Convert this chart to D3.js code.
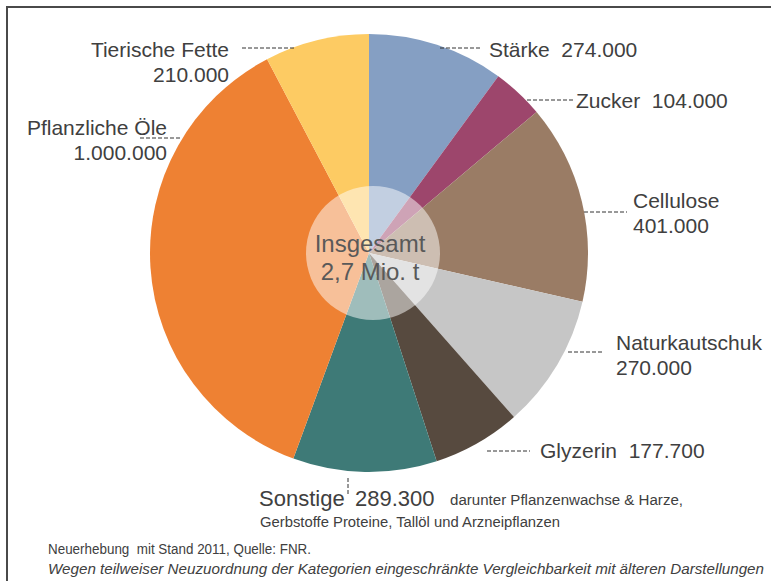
<!DOCTYPE html>
<html><head><meta charset="utf-8">
<script src="https://cdn.jsdelivr.net/npm/d3@7"></script>
<style>body{margin:0;background:#fff}svg{display:block}text{font-family:"Liberation Sans",Arial,sans-serif}</style>
</head><body><svg id="c" width="771" height="581"></svg>
<script>
const categories = ["Stärke","Zucker","Cellulose","Naturkautschuk","Glyzerin","Sonstige","Pflanzliche Öle","Tierische Fette"];
const values = [274000,104000,401000,270000,177700,289300,1000000,210000];
const valueLabels = ["274.000","104.000","401.000","270.000","177.700","289.300","1.000.000","210.000"];
const colors = ["#859fc3","#9d466c","#9a7c65","#c6c6c6","#574a3f","#3e7a77","#ee8133","#fdcb63"];
const centerLines = ["Insgesamt","2,7 Mio. t"];

const svg = d3.select("#c");
const cx = 369, cy = 253, R = 219;
const ink = "#404040";

// frame
svg.append("path").attr("d","M7,581 V7 H771").attr("fill","none").attr("stroke","#4a4a4a").attr("stroke-width",2);

const pie = d3.pie().sort(null).value(d=>d)(values);
const arc = d3.arc().innerRadius(0).outerRadius(R);
const g = svg.append("g").attr("transform",`translate(${cx},${cy})`);
g.selectAll("path").data(pie).join("path").attr("d",arc).attr("fill",(d,i)=>colors[i]);

svg.append("circle").attr("cx",cx+4).attr("cy",cy).attr("r",67).attr("fill","#fff").attr("fill-opacity",0.5);
svg.append("text").attr("x",cx+1).attr("y",cy-1).attr("text-anchor","middle").attr("font-size",24).attr("fill","#595959").text(centerLines[0]);
svg.append("text").attr("x",cx+1).attr("y",cy+27).attr("text-anchor","middle").attr("font-size",24).attr("fill","#595959").text(centerLines[1]);

// label layout (positions separate from data)
const layout = [
  {x:489,y:57,anchor:"start",two:false,line:[440,48,481,48]},
  {x:576,y:108,anchor:"start",two:false,line:[527,100,573,100]},
  {x:633,y:208,anchor:"start",two:true,line:[584,212,627,212]},
  {x:616,y:350,anchor:"start",two:true,line:[568,352,603,352]},
  {x:540,y:458,anchor:"start",two:false,line:[487,451,530,451]},
  null,
  {x:167,y:135,anchor:"end",two:true,line:[140,138,182,138]},
  {x:229,y:57,anchor:"end",two:true,line:[242,48,296,48]}
];
const dash = (l)=>svg.append("line").attr("x1",l[0]).attr("y1",l[1]).attr("x2",l[2]).attr("y2",l[3])
  .attr("stroke","#333").attr("stroke-width",1).attr("stroke-dasharray","4,2");
layout.forEach((L,i)=>{
  if(!L) return;
  dash(L.line);
  if(L.two){
    svg.append("text").attr("x",L.x).attr("y",L.y).attr("text-anchor",L.anchor).attr("font-size",21).attr("fill",ink).text(categories[i]);
    svg.append("text").attr("x",L.x).attr("y",L.y+25).attr("text-anchor",L.anchor).attr("font-size",21).attr("fill",ink).text(valueLabels[i]);
  } else {
    svg.append("text").attr("x",L.x).attr("y",L.y).attr("text-anchor",L.anchor).attr("font-size",21).attr("fill",ink)
      .attr("xml:space","preserve").text(categories[i]+"  "+valueLabels[i]);
  }
});

// Sonstige
dash([348,478,348,494]);
svg.append("text").attr("x",259).attr("y",506).attr("font-size",22).attr("fill",ink).text(categories[5]);
svg.append("text").attr("x",355).attr("y",506).attr("font-size",22).attr("fill",ink).text(valueLabels[5]);
svg.append("text").attr("x",450).attr("y",505).attr("font-size",14).attr("fill",ink)
  .attr("textLength",233).attr("lengthAdjust","spacingAndGlyphs").text("darunter Pflanzenwachse & Harze,");
svg.append("text").attr("x",260).attr("y",527).attr("font-size",14).attr("fill",ink)
  .attr("textLength",300).attr("lengthAdjust","spacingAndGlyphs").text("Gerbstoffe Proteine, Tallöl und Arzneipflanzen");

// footer
svg.append("text").attr("x",48).attr("y",554).attr("font-size",14).attr("fill",ink)
  .attr("textLength",263).attr("lengthAdjust","spacingAndGlyphs").attr("xml:space","preserve").text("Neuerhebung  mit Stand 2011, Quelle: FNR.");
svg.append("text").attr("x",48).attr("y",574).attr("font-size",14).attr("font-style","italic").attr("fill",ink)
  .attr("textLength",716).attr("lengthAdjust","spacingAndGlyphs").text("Wegen teilweiser Neuzuordnung der Kategorien eingeschränkte Vergleichbarkeit mit älteren Darstellungen");
</script></body></html>
